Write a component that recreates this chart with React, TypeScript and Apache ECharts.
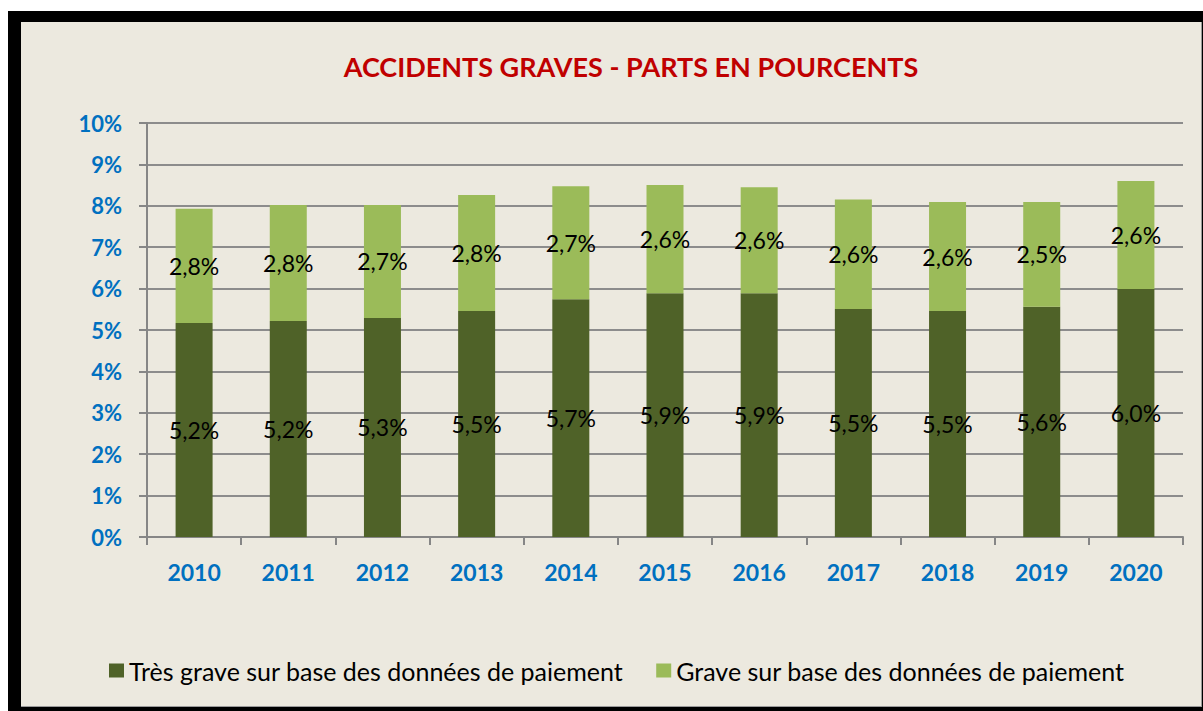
import React, { useEffect, useRef } from "react";
import * as echarts from "echarts";

const years = ["2010", "2011", "2012", "2013", "2014", "2015", "2016", "2017", "2018", "2019", "2020"];
const tresGrave = [5.17, 5.22, 5.29, 5.46, 5.74, 5.89, 5.89, 5.51, 5.46, 5.56, 5.99];
const grave = [2.76, 2.8, 2.73, 2.8, 2.73, 2.61, 2.56, 2.64, 2.63, 2.53, 2.61];
const seriesNames = ["Très grave sur base des données de paiement", "Grave sur base des données de paiement"];
const titleText = "ACCIDENTS GRAVES - PARTS EN POURCENTS";

const FONT = "Lato";

export default function App() {
  const ref = useRef<HTMLDivElement>(null);
  useEffect(() => {
    const chart = echarts.init(ref.current!, null, { renderer: "svg" });
    const fmt = (p: any) => (p.value as number).toFixed(1).replace(".", ",") + "%";
    chart.setOption({
      animation: false,
      backgroundColor: "#ffffff",
      graphic: [
        { type: "rect", z: -10, shape: { x: 8, y: 11, width: 1195, height: 700 }, style: { fill: "#000000" } },
        { type: "rect", z: -9, shape: { x: 21, y: 22, width: 1181, height: 685 }, style: { fill: "#9a9a9a" } },
        { type: "rect", z: -8, shape: { x: 21, y: 22, width: 1180, height: 684 }, style: { fill: "#ECE9DF" } },
      ],
      title: {
        text: titleText,
        left: 626,
        top: 48,
        textAlign: "center",
        textStyle: { color: "#C00000", fontFamily: FONT, fontWeight: "bold", fontSize: 27 },
      },
      legend: {
        top: 653,
        left: 104,
        itemWidth: 15,
        itemHeight: 14,
        itemGap: 33,
        icon: "rect",
        textStyle: { color: "#000", fontFamily: FONT, fontSize: 25 },
        data: seriesNames,
      },
      grid: { left: 147, right: 20, top: 123, bottom: 174, containLabel: false },
      xAxis: {
        type: "category",
        data: years,
        axisLine: { lineStyle: { color: "#868686", width: 2 } },
        axisTick: { show: true, length: 8, lineStyle: { color: "#868686", width: 2 } },
        axisLabel: { color: "#0070C0", fontFamily: FONT, fontWeight: "bold", fontSize: 23, margin: 23 },
      },
      yAxis: {
        type: "value",
        min: 0,
        max: 10,
        interval: 1,
        axisLine: { show: true, lineStyle: { color: "#868686", width: 2 } },
        axisTick: { show: true, length: 8, lineStyle: { color: "#868686", width: 2 } },
        splitLine: { show: true, lineStyle: { color: "#8c8c8c", width: 2 } },
        axisLabel: { color: "#0070C0", fontFamily: FONT, fontWeight: "bold", fontSize: 22, margin: 25, formatter: "{value}%" },
      },
      series: [
        {
          name: seriesNames[0],
          type: "bar",
          stack: "a",
          data: tresGrave,
          barWidth: 37,
          itemStyle: { color: "#4F6228" },
          label: { show: true, position: "inside", formatter: fmt, color: "#000", fontFamily: FONT, fontSize: 23 },
        },
        {
          name: seriesNames[1],
          type: "bar",
          stack: "a",
          data: grave,
          barWidth: 37,
          itemStyle: { color: "#9BBB59" },
          label: { show: true, position: "inside", formatter: fmt, color: "#000", fontFamily: FONT, fontSize: 23 },
        },
      ],
    });
    return () => chart.dispose();
  }, []);
  return <div ref={ref} style={{ position: "fixed", left: 0, top: 0, width: 1203, height: 711 }} />;
}
